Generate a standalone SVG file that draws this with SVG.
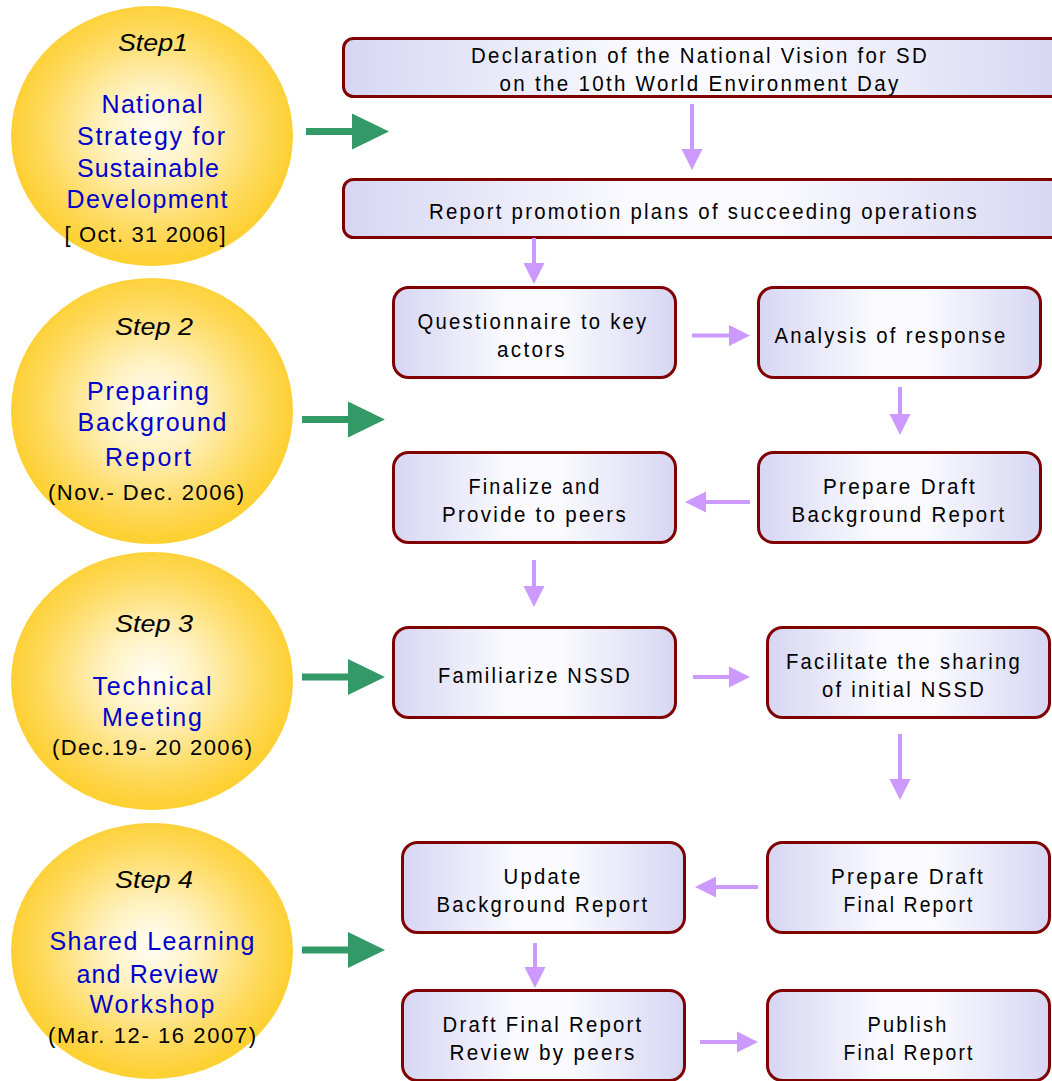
<svg xmlns="http://www.w3.org/2000/svg" width="1052" height="1081" viewBox="0 0 1052 1081">
<defs>
<radialGradient id="sun" cx="50%" cy="48%" r="50%">
<stop offset="0" stop-color="#fffef6"/>
<stop offset="0.35" stop-color="#fff1bf"/>
<stop offset="0.75" stop-color="#fedb62"/>
<stop offset="1" stop-color="#fdd034"/>
</radialGradient>
<linearGradient id="box" x1="0" y1="0" x2="1" y2="0">
<stop offset="0" stop-color="#d6d6f3"/>
<stop offset="0.42" stop-color="#fbfbff"/>
<stop offset="0.58" stop-color="#fbfbff"/>
<stop offset="1" stop-color="#d6d6f3"/>
</linearGradient>
<path id="garrow" d="M0,-3.5 H46 V-18 L83,0 L46,18 V3.5 H0 Z"/>
</defs>
<style>
.step{font-family:"Liberation Sans",Arial,sans-serif;font-size:23px;font-style:italic;fill:#000;text-anchor:middle}
.blue{font-family:"Liberation Sans",Arial,sans-serif;font-size:25px;fill:#0000cc;text-anchor:middle}
.date{font-family:"Liberation Sans",Arial,sans-serif;font-size:22px;fill:#000;text-anchor:middle}
.bt{font-family:"Liberation Sans",Arial,sans-serif;font-size:22.5px;letter-spacing:2.5px;fill:#000;text-anchor:middle}
.sun{fill:url(#sun)}
.node rect{fill:url(#box);stroke:#800000;stroke-width:3}
.g{fill:#339966}
.p{fill:#cc99ff}
</style>
<rect width="1052" height="1081" fill="#ffffff"/>

<g id="step1">
<ellipse class="sun" cx="152" cy="136" rx="141" ry="130"/>
<text class="step" x="153" y="51" textLength="70" lengthAdjust="spacingAndGlyphs">Step1</text>
<text class="blue" x="152" y="113" textLength="101">National</text>
<text class="blue" x="151" y="145" textLength="148">Strategy for</text>
<text class="blue" x="148" y="177" textLength="142">Sustainable</text>
<text class="blue" x="147" y="208" textLength="161">Development</text>
<text class="date" x="145" y="242" textLength="161">[ Oct. 31 2006]</text>
</g>

<g id="step2">
<ellipse class="sun" cx="152" cy="411" rx="141" ry="133"/>
<text class="step" x="154" y="335" textLength="78" lengthAdjust="spacingAndGlyphs">Step 2</text>
<text class="blue" x="148" y="400" textLength="122">Preparing</text>
<text class="blue" x="152" y="431" textLength="149">Background</text>
<text class="blue" x="148" y="466" textLength="86">Report</text>
<text class="date" x="146" y="500" textLength="196">(Nov.- Dec. 2006)</text>
</g>

<g id="step3">
<ellipse class="sun" cx="152" cy="681" rx="141" ry="129"/>
<text class="step" x="154" y="632" textLength="78" lengthAdjust="spacingAndGlyphs">Step 3</text>
<text class="blue" x="152" y="695" textLength="119">Technical</text>
<text class="blue" x="152" y="726" textLength="100">Meeting</text>
<text class="date" x="152" y="755" textLength="200">(Dec.19- 20 2006)</text>
</g>

<g id="step4">
<ellipse class="sun" cx="152" cy="951" rx="141" ry="128"/>
<text class="step" x="154" y="888" textLength="78" lengthAdjust="spacingAndGlyphs">Step 4</text>
<text class="blue" x="152" y="950" textLength="205">Shared Learning</text>
<text class="blue" x="147" y="983" textLength="141">and Review</text>
<text class="blue" x="152" y="1013" textLength="125">Workshop</text>
<text class="date" x="152" y="1043" textLength="208">(Mar. 12- 16 2007)</text>
</g>

<g id="n-declaration" class="node">
<rect x="343.5" y="38.5" width="720" height="58" rx="10"/>
<text class="bt" x="700" y="63" textLength="458" lengthAdjust="spacingAndGlyphs">Declaration of the National Vision for SD</text>
<text class="bt" x="700" y="91" textLength="401" lengthAdjust="spacingAndGlyphs">on the 10th World Environment Day</text>
</g>
<g id="n-report" class="node">
<rect x="343.5" y="179.5" width="720" height="58" rx="10"/>
<text class="bt" x="704" y="219" textLength="550" lengthAdjust="spacingAndGlyphs">Report promotion plans of succeeding operations</text>
</g>
<g id="n-questionnaire" class="node">
<rect x="393.5" y="287.5" width="282" height="90" rx="15"/>
<text class="bt" x="533" y="329" textLength="231" lengthAdjust="spacingAndGlyphs">Questionnaire to key</text>
<text class="bt" x="532" y="357" textLength="70" lengthAdjust="spacingAndGlyphs">actors</text>
</g>
<g id="n-analysis" class="node">
<rect x="758.5" y="287.5" width="282" height="90" rx="15"/>
<text class="bt" x="891" y="343" textLength="233" lengthAdjust="spacingAndGlyphs">Analysis of response</text>
</g>
<g id="n-finalize" class="node">
<rect x="393.5" y="452.5" width="282" height="90" rx="15"/>
<text class="bt" x="535" y="494" textLength="133" lengthAdjust="spacingAndGlyphs">Finalize and</text>
<text class="bt" x="535" y="522" textLength="186" lengthAdjust="spacingAndGlyphs">Provide to peers</text>
</g>
<g id="n-prepdraftbg" class="node">
<rect x="758.5" y="452.5" width="282" height="90" rx="15"/>
<text class="bt" x="900" y="494" textLength="154" lengthAdjust="spacingAndGlyphs">Prepare Draft</text>
<text class="bt" x="899" y="522" textLength="215" lengthAdjust="spacingAndGlyphs">Background Report</text>
</g>
<g id="n-familiarize" class="node">
<rect x="393.5" y="627.5" width="282" height="90" rx="15"/>
<text class="bt" x="535" y="683" textLength="194" lengthAdjust="spacingAndGlyphs">Familiarize NSSD</text>
</g>
<g id="n-facilitate" class="node">
<rect x="767.5" y="627.5" width="282" height="90" rx="15"/>
<text class="bt" x="904" y="669" textLength="236" lengthAdjust="spacingAndGlyphs">Facilitate the sharing</text>
<text class="bt" x="904" y="697" textLength="164" lengthAdjust="spacingAndGlyphs">of initial NSSD</text>
</g>
<g id="n-update" class="node">
<rect x="402.5" y="842.5" width="282" height="90" rx="15"/>
<text class="bt" x="543" y="884" textLength="79" lengthAdjust="spacingAndGlyphs">Update</text>
<text class="bt" x="543" y="912" textLength="213" lengthAdjust="spacingAndGlyphs">Background Report</text>
</g>
<g id="n-prepdraftfinal" class="node">
<rect x="767.5" y="842.5" width="282" height="90" rx="15"/>
<text class="bt" x="908" y="884" textLength="154" lengthAdjust="spacingAndGlyphs">Prepare Draft</text>
<text class="bt" x="909" y="912" textLength="131" lengthAdjust="spacingAndGlyphs">Final Report</text>
</g>
<g id="n-draftfinal" class="node">
<rect x="402.5" y="990.5" width="282" height="90" rx="15"/>
<text class="bt" x="543" y="1032" textLength="201" lengthAdjust="spacingAndGlyphs">Draft Final Report</text>
<text class="bt" x="543" y="1060" textLength="187" lengthAdjust="spacingAndGlyphs">Review by peers</text>
</g>
<g id="n-publish" class="node">
<rect x="767.5" y="990.5" width="282" height="90" rx="15"/>
<text class="bt" x="908" y="1032" textLength="81" lengthAdjust="spacingAndGlyphs">Publish</text>
<text class="bt" x="909" y="1060" textLength="131" lengthAdjust="spacingAndGlyphs">Final Report</text>
</g>

<g id="connectors">
<use href="#garrow" class="g" transform="translate(306,131.5)"/>
<use href="#garrow" class="g" transform="translate(302,419.5)"/>
<use href="#garrow" class="g" transform="translate(302,677)"/>
<use href="#garrow" class="g" transform="translate(302,950)"/>
<path class="p" d="M690,104 H694 V149 H702.5 L692,170 L681.5,149 H690 Z"/>
<path class="p" d="M532,238 H536 V263 H544.5 L534,284 L523.5,263 H532 Z"/>
<path class="p" d="M692,333.5 H729 V325 L750,335.5 L729,346 V337.5 H692 Z"/>
<path class="p" d="M898,387 H902 V414 H910.5 L900,435 L889.5,414 H898 Z"/>
<path class="p" d="M750,500 H706 V491.5 L685,502 L706,512.5 V504 H750 Z"/>
<path class="p" d="M532,560 H536 V586 H544.5 L534,607 L523.5,586 H532 Z"/>
<path class="p" d="M693,675 H729 V666.5 L750,677 L729,687.5 V679 H693 Z"/>
<path class="p" d="M898,734 H902 V779 H910.5 L900,800 L889.5,779 H898 Z"/>
<path class="p" d="M758,885 H716 V876.5 L695,887 L716,897.5 V889 H758 Z"/>
<path class="p" d="M533,943 H537 V967 H545.5 L535,988 L524.5,967 H533 Z"/>
<path class="p" d="M700,1040 H737 V1031.5 L758,1042 L737,1052.5 V1044 H700 Z"/>
</g>
</svg>
